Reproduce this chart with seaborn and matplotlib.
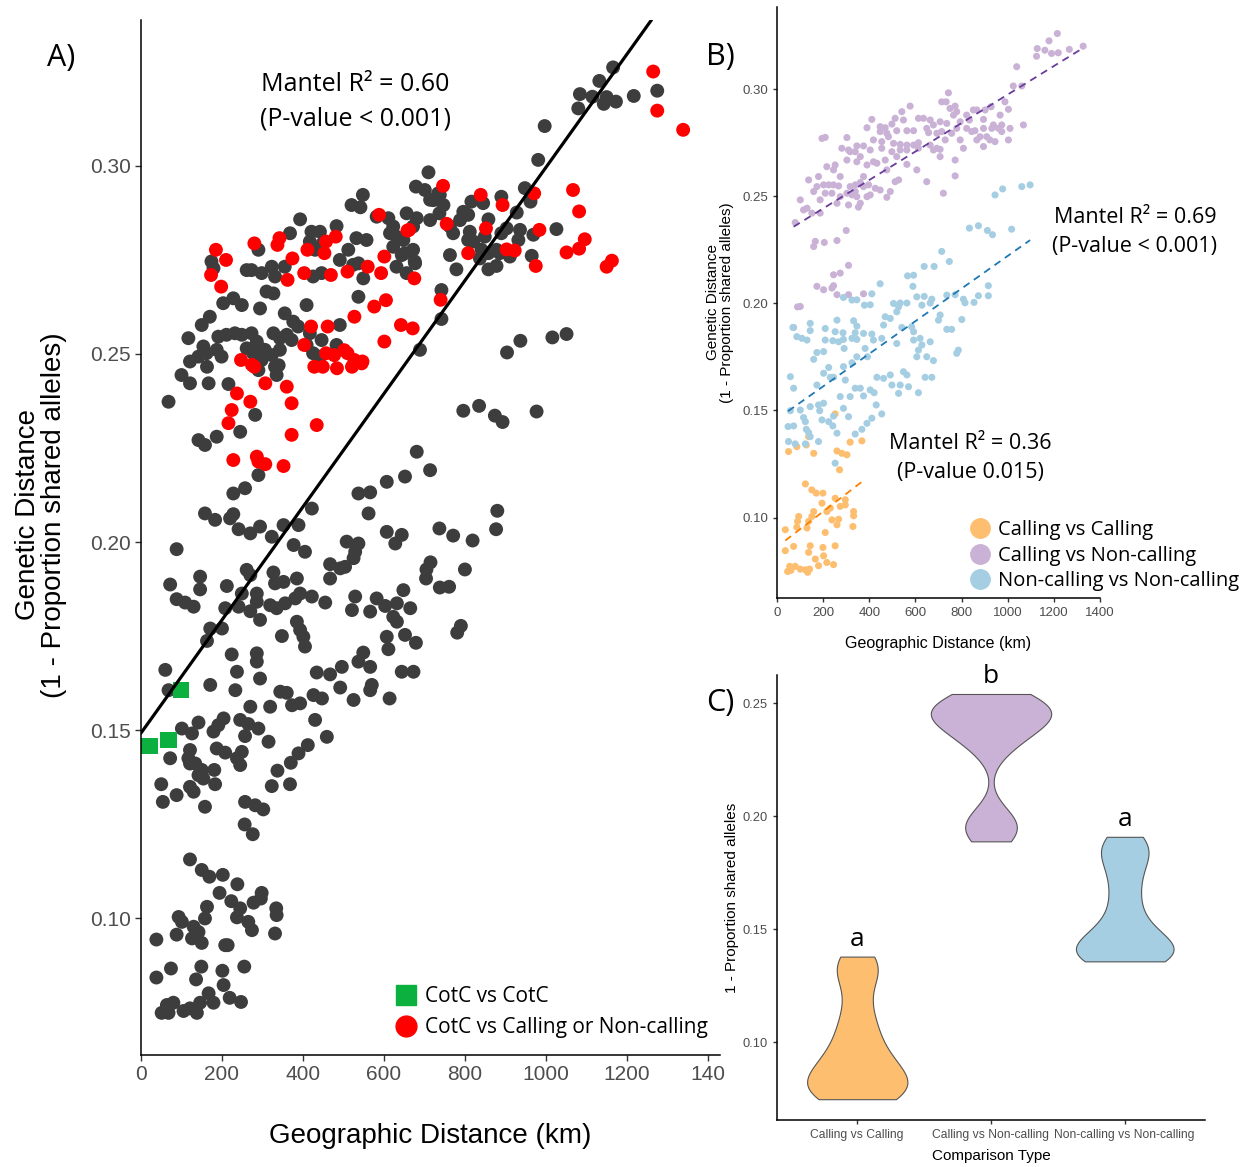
import numpy as np
import pandas as pd
import matplotlib
matplotlib.use("Agg")
import matplotlib.pyplot as plt
import seaborn as sns
from matplotlib.lines import Line2D

sns.set_theme(style="white")
plt.rcParams["font.family"] = ["Liberation Sans", "DejaVu Sans"]
plt.rcParams["text.color"] = "black"
ANNOT_FONT = ["Open Sans", "DejaVu Sans"]

# ---------------- Panel A data (km, genetic distance) ----------------
A_gray = [
    (710,.2983),(679,.2945),(701,.2936),(548,.2923),(520,.2896),(542,.2890),(393,.2858),(483,.2840),
    (656,.2874),(681,.2861),(672,.2839),(623,.2839),(615,.2821),(631,.2812),(648,.2803),(623,.2785),
    (582,.2865),(611,.2861),(421,.2825),(442,.2825),(417,.2799),(430,.2777),(449,.2794),(368,.2821),
    (532,.2808),(557,.2803),(512,.2777),(491,.2750),(524,.2737),(537,.2741),(549,.2701),(644,.2763),
    (631,.2732),(677,.2741),(656,.2715),(290,.2777),(273,.2723),(298,.2715),(323,.2732),(331,.2706),
    (355,.2732),(446,.2715),(425,.2706),(174,.2746),(179,.2728),(261,.2723),(310,.2666),(327,.2661),
    (228,.2648),(203,.2635),(249,.2630),(294,.2621),(355,.2608),(376,.2586),(388,.2573),(409,.2630),
    (491,.2577),(537,.2652),(150,.2577),(170,.2599),(117,.2542),(142,.2493),(162,.2502),(187,.2511),
    (191,.2546),(211,.2551),(232,.2555),(249,.2551),(261,.2515),(154,.2520),(199,.2493),(273,.2555),
    (286,.2533),(294,.2515),(306,.2511),(277,.2502),(298,.2484),(323,.2497),(327,.2555),(343,.2542),
    (360,.2551),(372,.2537),(343,.2511),(331,.2466),(417,.2555),(409,.2524),(425,.2502),(442,.2493),
    (483,.2524),(446,.2537),(100,.2444),(290,.2457),(714,.2910),(734,.2927),
    (1166,.3262),(1132,.3226),(1084,.3191),(1115,.3184),(1150,.3183),(1143,.3165),(1173,.3171),
    (1080,.3153),(1217,.3186),(1275,.3200),(997,.3106),(981,.3016),(738,.2923),(722,.2909),(747,.2896),
    (737,.2874),(816,.2905),(845,.2901),(808,.2870),(788,.2856),(796,.2878),(890,.2918),(948,.2941),
    (962,.2905),(928,.2876),(858,.2858),(714,.2856),(763,.2839),(771,.2821),(812,.2825),(808,.2803),
    (821,.2799),(849,.2812),(890,.2821),(903,.2834),(936,.2830),(932,.2803),(1026,.2832),(969,.2817),
    (652,.2768),(672,.2777),(676,.2746),(763,.2763),(837,.2754),(841,.2777),(858,.2768),(878,.2777),
    (886,.2768),(911,.2759),(779,.2725),(858,.2725),(878,.2734),(965,.2761),(742,.2670),(742,.2593),
    (689,.2511),(904,.2504),(937,.2535),(1016,.2544),(1051,.2553),
    (121,.2480),(163,.2466),(121,.2422),(167,.2422),(216,.2420),(335,.2444),(340,.2470),(68,.2373),
    (282,.2338),(245,.2293),(187,.2280),(142,.2271),(158,.2258),(290,.2178),(228,.2129),(257,.2143),
    (158,.2076),(183,.2059),(220,.2063),(228,.2074),(241,.2034),(270,.2023),(294,.2041),(323,.2014),
    (352,.2045),(389,.2045),(422,.2089),(88,.1981),(377,.1992),(405,.1974),
    (681,.2240),(714,.2191),(652,.2174),(607,.2160),(566,.2132),(537,.2129),(562,.2076),(607,.2027),
    (644,.2019),(628,.1996),(508,.2001),(537,.1996),(529,.1974),(525,.1957),(467,.1941),(492,.1930),
    (504,.1934),(467,.1903),(385,.1903),(327,.1919),(331,.1890),(352,.1894),(261,.1926),(270,.1912),
    (146,.1908),(72,.1887),(146,.1874),(88,.1848),(109,.1839),(130,.1828),(212,.1883),(249,.1863),
    (286,.1863),(286,.1841),(241,.1828),(208,.1824),(270,.1816),(319,.1832),(335,.1824),(356,.1837),
    (381,.1850),(393,.1863),(422,.1855),(455,.1839),(529,.1855),(582,.1850),(603,.1830),(632,.1837),
    (648,.1872),(665,.1824),(566,.1815),(521,.1819),(294,.1793),(385,.1788),(393,.1766),(401,.1748),
    (405,.1722),(348,.1750),(200,.1770),(171,.1770),(163,.1737),(623,.1801),(632,.1788),(607,.1748),
    (652,.1753),(679,.1732),(611,.1715),(549,.1706),(537,.1682),(566,.1668),(496,.1668),(467,.1648),
    (434,.1653),(294,.1637),(237,.1655),(224,.1701),(286,.1704),(286,.1682),(171,.1620),(233,.1606),
    (344,.1602),(360,.1599),(426,.1593),(447,.1584),(492,.1613),(570,.1620),(566,.1606),(525,.1580),
    (614,.1584),(644,.1655),(673,.1655),(270,.1562),(319,.1562),(373,.1566),(393,.1571),(60,.1660),
    (68,.1606),
    (796,.2349),(835,.2362),(874,.2336),(893,.2319),(977,.2347),(880,.2083),(877,.2034),(737,.2036),
    (771,.2017),(819,.2004),(715,.1946),(705,.1927),(704,.1903),(800,.1927),(738,.1879),(761,.1881),
    (790,.1777),(781,.1759),
    (101,.1504),(126,.1491),(142,.1520),(179,.1496),(191,.1513),(204,.1531),(245,.1527),(265,.1516),
    (290,.1504),(315,.1469),(257,.1484),(430,.1527),(459,.1482),(72,.1425),(121,.1447),(121,.1411),
    (134,.1411),(117,.1425),(187,.1451),(208,.1440),(237,.1425),(249,.1442),(245,.1407),(150,.1394),
    (142,.1380),(154,.1371),(181,.1394),(183,.1356),(50,.1356),(54,.1309),(88,.1327),(121,.1349),
    (130,.1336),(158,.1296),(257,.1309),(282,.1300),(302,.1289),(256,.1249),(276,.1223),(337,.1392),
    (370,.1413),(389,.1438),(412,.1460),(368,.1356),(323,.1351),
    (121,.1156),(150,.1128),(169,.1110),(202,.1115),(238,.1090),(194,.1067),(223,.1045),(245,.1026),
    (278,.1041),(298,.1067),(296,.1052),(334,.1026),(335,.1008),(237,.1002),(265,.0990),(274,.0968),
    (331,.0959),(163,.1030),(158,.0999),(93,.1003),(101,.0990),(130,.0977),(142,.0963),(88,.0956),
    (126,.0946),(150,.0934),(208,.0928),(214,.0928),(38,.0943),(38,.0842),(74,.0866),(149,.0871),
    (136,.0837),(201,.0860),(204,.0822),(255,.0871),(167,.0800),(179,.0775),(219,.0788),(247,.0777),
    (146,.0775),(80,.0775),(64,.0769),(51,.0748),(68,.0748),(105,.0753),(121,.0760),(138,.0748),
]
A_red = [
    (185,.2777),(210,.2750),(173,.2710),(198,.2679),(280,.2794),(342,.2808),(337,.2790),(374,.2754),
    (411,.2777),(403,.2715),(362,.2697),(453,.2768),(457,.2799),(481,.2812),(469,.2710),(510,.2719),
    (560,.2732),(593,.2715),(601,.2759),(588,.2870),(662,.2830),(675,.2701),(576,.2626),(605,.2643),
    (527,.2599),(420,.2573),(461,.2573),(601,.2533),(642,.2577),(671,.2568),(457,.2502),(477,.2497),
    (502,.2510),(510,.2502),(527,.2484),(547,.2480),(449,.2466),(428,.2466),(247,.2484),(280,.2466),
    (403,.2524),
    (274,.2471),(307,.2422),(360,.2413),(237,.2395),(270,.2373),(372,.2369),(224,.2351),(216,.2316),
    (434,.2311),(372,.2285),(228,.2218),(286,.2227),(290,.2214),(307,.2207),(352,.2202),(484,.2462),
    (521,.2466),(545,.2475),
    (1265,.3251),(1275,.3147),(1339,.3096),(746,.2947),(839,.2923),(893,.2896),(971,.2927),(1067,.2936),
    (1082,.2879),(755,.2846),(852,.2834),(984,.2830),(808,.2768),(903,.2778),(923,.2775),(975,.2734),
    (1051,.2770),(1082,.2780),(1096,.2805),(1150,.2732),(1163,.2748),(658,.2828),(740,.2644),
]
A_green = [(21,.1457),(68,.1473),(98,.1606)]
A_fit_intercept, A_fit_slope = 0.1492, 0.0001504
A_labels = ["CotC vs CotC", "CotC vs Calling or Non-calling"]
A_xticks = [0, 200, 400, 600, 800, 1000, 1200, 1400]
A_xticklabels = ["0", "200", "400", "600", "800", "1000", "1200", "140"]
yticks_AB = [0.10, 0.15, 0.20, 0.25, 0.30]

# ---------------- Panel B data ----------------
B_groups = ["Calling vs Calling", "Calling vs Non-calling", "Non-calling vs Non-calling"]
B_purple = [
    (1215,.3261),(1179,.3227),(1128,.3191),(1161,.3183),(1190,.3168),(1219,.3171),(1267,.3187),(1327,.3202),
    (1125,.3155),(1039,.3106),(1024,.3016),(1061,.3016),(1068,.2834),
    (743,.2984),(714,.2942),(733,.2942),(928,.2919),(988,.2942),(577,.2922),(541,.2896),(512,.2865),
    (613,.2865),(635,.2865),(772,.2922),(750,.2911),(779,.2896),(822,.2880),(851,.2904),(866,.2904),
    (902,.2904),(967,.2880),(1003,.2907),(411,.2860),(447,.2826),(469,.2821),(498,.2838),(548,.2857),
    (664,.2857),(678,.2834),(707,.2849),(736,.2841),(765,.2880),(794,.2849),(834,.2857),(895,.2860),
    (938,.2834),(974,.2834),(1010,.2818),(390,.2821),(447,.2803),(476,.2795),(519,.2807),(563,.2807),
    (592,.2807),(649,.2818),(657,.2798),(693,.2795),(714,.2803),(757,.2795),(779,.2818),(822,.2818),
    (858,.2807),(895,.2818),(931,.2818),(960,.2818),(974,.2803),(909,.2779),(880,.2779),(844,.2803),
    (195,.2771),(209,.2776),(303,.2775),(346,.2736),(375,.2736),(418,.2764),(454,.2756),(483,.2779),
    (505,.2748),(534,.2743),(563,.2740),(592,.2740),(613,.2751),(664,.2740),(693,.2725),(729,.2764),
    (794,.2764),(866,.2764),(895,.2733),(923,.2764),(945,.2756),(1003,.2764),(281,.2725),(310,.2717),
    (339,.2709),(404,.2717),(454,.2725),(498,.2709),(534,.2717),(563,.2717),(613,.2725),(678,.2717),
    (707,.2720),(808,.2725),(707,.2686),(772,.2670),(418,.2662),(469,.2670),(519,.2686),(361,.2686),
    (303,.2670),(317,.2709),(216,.2639),(252,.2647),(346,.2662),(390,.2647),(433,.2655),(476,.2624),
    (563,.2650),(606,.2624),(772,.2596),(180,.2593),(137,.2577),(245,.2624),(274,.2593),(375,.2593),
    (649,.2569),(159,.2523),(173,.2546),(202,.2554),(224,.2554),(245,.2554),(267,.2549),(317,.2546),
    (339,.2554),(361,.2565),(375,.2546),(397,.2554),(426,.2538),(447,.2530),(491,.2523),(512,.2569),
    (527,.2577),(187,.2484),(209,.2515),(238,.2515),(274,.2499),(303,.2515),(325,.2507),(339,.2523),
    (346,.2499),(390,.2499),(404,.2507),(476,.2496),(310,.2460),(361,.2468),(260,.2468),(353,.2450),
    (101,.2484),(130,.2445),(115,.2437),(151,.2422),(187,.2422),(79,.2378),(721,.2515),
    (166,.2290),(159,.2266),(205,.2285),(260,.2294),(300,.2341),(245,.2134),(274,.2142),(310,.2178),
    (173,.2080),(202,.2064),(238,.2072),(245,.2083),(260,.2041),(310,.2041),(375,.2045),(101,.1986),
    (89,.1984),(72,.1888),
]
B_blue = [
    (945,.2507),(978,.2535),(1061,.2546),(1097,.2554),(834,.2352),(873,.2363),(912,.2341),(934,.2321),
    (1017,.2347),(714,.2243),(747,.2196),(638,.2173),(681,.2173),(566,.2129),(592,.2132),(589,.2080),
    (447,.2092),(411,.2045),(346,.2017),(288,.2028),(638,.2033),(671,.2020),(664,.2002),(772,.2041),
    (808,.2020),(854,.2005),(916,.2083),(916,.2036),(534,.2002),(563,.2002),(404,.1994),
    (325,.2016),(379,.1992),(505,.2000),(519,.1961),(606,.2031),(628,.1992),(736,.2039),(815,.2003),
    (873,.2036),(69,.1888),(86,.1845),(108,.1837),(130,.1829),(144,.1907),(144,.1873),(209,.1883),
    (202,.1775),(173,.1771),(159,.1739),(209,.1829),(242,.1826),(252,.1868),(267,.1821),(286,.1863),
    (288,.1832),(291,.1790),(260,.1922),(332,.1919),(346,.1894),(339,.1863),(325,.1837),(346,.1832),
    (375,.1860),(411,.1857),(382,.1790),(392,.1751),(346,.1751),(325,.1723),(288,.1705),(224,.1701),
    (245,.1655),(231,.1655),(202,.1674),(173,.1619),(58,.1658),(72,.1604),(296,.1642),(274,.1565),
    (317,.1565),(339,.1604),(361,.1604),(375,.1568),(404,.1596),(421,.1583),(433,.1655),(462,.1650),
    (491,.1666),(498,.1619),(534,.1619),(527,.1580),(548,.1681),(563,.1666),(570,.1611),(613,.1583),
    (642,.1655),(671,.1655),(606,.1751),(649,.1751),(678,.1733),(613,.1782),(628,.1806),(664,.1821),
    (620,.1837),(592,.1829),(519,.1813),(541,.1888),(584,.1891),(592,.1868),(469,.1938),(491,.1930),
    (462,.1899),(454,.1837),(418,.1829),(527,.1984),(700,.1922),(707,.1946),(736,.1879),(757,.1879),
    (801,.1925),(779,.1767),(786,.1782),(48,.1425),(72,.1428),(58,.1499),(101,.1502),(115,.1467),
    (123,.1448),(127,.1412),(137,.1397),(144,.1378),(144,.1518),(180,.1526),(185,.1499),(202,.1534),
    (195,.1456),(224,.1448),(245,.1474),(242,.1428),(260,.1394),(252,.1254),(288,.1510),(310,.1471),
    (339,.1390),(368,.1412),(390,.1440),(411,.1464),(430,.1526),(454,.1484),(50,.1355),(123,.1344),
    (180,.1355),(79,.1344),
]
B_orange = [
    (252,.1484),(368,.1358),(317,.1352),(260,.1311),(281,.1300),(303,.1293),(271,.1223),(127,.1339),
    (86,.1331),(50,.1308),(137,.1378),(159,.1300),(123,.1157),(151,.1129),(170,.1114),(199,.1114),
    (252,.1090),(296,.1083),(296,.1059),(274,.1052),(195,.1067),(231,.1044),(216,.1028),(159,.1028),
    (151,.1005),(137,.0982),(94,.1005),(89,.0982),(130,.0951),(86,.0955),(209,.0930),(238,.0989),
    (267,.0992),(260,.0966),(332,.1028),(332,.1008),(329,.0958),(36,.0943),(36,.0845),(72,.0865),
    (144,.0868),(199,.0860),(252,.0868),(137,.0837),(166,.0806),(202,.0821),(216,.0790),(180,.0775),
    (245,.0780),(101,.0759),(123,.0756),(141,.0759),(133,.0744),(55,.0772),(60,.0753),(46,.0748),
    (79,.0772),
]
B_xticks = [0, 200, 400, 600, 800, 1000, 1200, 1400]

# ---------------- Panel C data ----------------
C_orange = [0.0748,0.0752,0.0758,0.0765,0.0775,0.079,0.080,0.0815,0.083,0.0845,0.086,0.0875,0.089,0.091,
            0.093,0.096,0.099,0.102,0.106,0.110,0.114,0.121,0.128,0.131,0.134,0.136,0.1379]
C_purple = [0.1889,0.191,0.193,0.195,0.197,0.199,0.202,0.228,0.231,0.234,0.236,0.238,0.240,0.241,
            0.242,0.243,0.244,0.245,0.246,0.247,0.248,0.249,0.250,0.251,0.252,0.253,0.2541]
C_blue = [0.1358,0.136,0.1365,0.137,0.1375,0.138,0.139,0.140,0.141,0.142,0.143,0.144,0.145,0.1465,
          0.148,0.150,0.153,0.156,0.160,0.164,0.168,0.172,0.176,0.179,0.182,0.184,0.186,0.188,
          0.1895,0.1909]
C_widths = [0.75, 0.9, 0.73]
C_bw = [0.7, 0.6, 0.7]
C_letters = ["a", "b", "a"]
C_yticks = [0.10, 0.15, 0.20, 0.25]

light = {"Calling vs Calling": "#FDBF6F", "Calling vs Non-calling": "#CAB2D6",
         "Non-calling vs Non-calling": "#A6CEE3"}
dark = {"Calling vs Calling": "#FF7F00", "Calling vs Non-calling": "#6A3D9A",
        "Non-calling vs Non-calling": "#1F78B4"}
AXIS_TXT = "#4d4d4d"

# ---------------- Figure ----------------
W, H = 1243, 1167
fig = plt.figure(figsize=(W / 100, H / 100), dpi=100)

def rect(l, t, r, b):
    return [l / W, 1 - b / H, (r - l) / W, (b - t) / H]

axA = fig.add_axes(rect(141, 20, 720, 1055))
axB = fig.add_axes(rect(777, 7, 1100, 598))
axC = fig.add_axes(rect(777, 675, 1205, 1120))

def style_axis(ax, size, tick_len=4):
    for s in ["top", "right"]:
        ax.spines[s].set_visible(False)
    for s in ["left", "bottom"]:
        ax.spines[s].set_color("black")
        ax.spines[s].set_linewidth(1.1)
    ax.tick_params(axis="both", labelsize=size, labelcolor=AXIS_TXT, color="#333333",
                   length=tick_len, width=1, direction="out", bottom=True, left=True)
    ax.grid(False)

# ----- Panel A -----
gray = pd.DataFrame(A_gray, columns=["km", "gd"])
red = pd.DataFrame(A_red, columns=["km", "gd"])
green = pd.DataFrame(A_green, columns=["km", "gd"])
sns.scatterplot(data=gray, x="km", y="gd", color="#3d3d3d", s=100, edgecolor="none", ax=axA)
sns.scatterplot(data=red, x="km", y="gd", color="#FF0000", s=100, edgecolor="none", ax=axA)
sns.scatterplot(data=green, x="km", y="gd", color="#0BB03F", marker="s", s=135, edgecolor="none", ax=axA)
axA.axline((0, A_fit_intercept), slope=A_fit_slope, color="black", lw=2.3)
axA.set_xlim(0, 1430)
axA.set_ylim(0.0636, 0.3388)
axA.set_xticks(A_xticks)
axA.set_xticklabels(A_xticklabels)
axA.set_yticks(yticks_AB)
axA.set_yticklabels([f"{v:.2f}" for v in yticks_AB])
style_axis(axA, 15)
axA.set_xlabel("Geographic Distance (km)", fontsize=20, labelpad=28, color="black")
axA.set_ylabel("Genetic Distance\n(1 - Proportion shared alleles)", fontsize=20, labelpad=14,
               color="black", linespacing=1.0)
axA.yaxis.set_label_coords(-0.128, 0.522)
axA.text(0.37, 0.921, "Mantel R² = 0.60\n(P-value < 0.001)", transform=axA.transAxes,
         ha="center", va="center", fontsize=18, family=ANNOT_FONT, linespacing=1.45, color="black")
hA = [Line2D([], [], marker="s", ls="", color="#0BB03F", markersize=14),
      Line2D([], [], marker="o", ls="", color="#FF0000", markersize=15)]
fig.legend(hA, A_labels, loc="upper left", bbox_to_anchor=(383 / W, 1 - 976 / H),
           frameon=False, handletextpad=0.3, labelspacing=0.48, borderpad=0, handlelength=1.2,
           prop={"family": ANNOT_FONT, "size": 15})

# ----- Panel B -----
frames = []
for g, pts in zip(B_groups, [B_orange, B_purple, B_blue]):
    d = pd.DataFrame(pts, columns=["km", "gd"])
    d["group"] = g
    frames.append(d)
dfB = pd.concat(frames, ignore_index=True)
sns.scatterplot(data=dfB, x="km", y="gd", hue="group", palette=light, s=26, edgecolor="none",
                legend=False, ax=axB)
for g in B_groups:
    sub = dfB[dfB["group"] == g]
    sns.regplot(data=sub, x="km", y="gd", scatter=False, ci=None, truncate=True, color=dark[g],
                line_kws=dict(ls=(0, (4, 3)), lw=1.3), ax=axB)
axB.set_xlim(0, 1400)
axB.set_ylim(0.0624, 0.3385)
axB.set_xticks(B_xticks)
axB.set_yticks(yticks_AB)
axB.set_yticklabels([f"{v:.2f}" for v in yticks_AB])
style_axis(axB, 9.5, tick_len=3)
axB.set_xlabel("Geographic Distance (km)", fontsize=11.5, labelpad=12, color="black")
axB.set_ylabel("Genetic Distance\n(1 - Proportion shared alleles)", fontsize=11, labelpad=6,
               color="black", linespacing=1.0)
fig.text(1135 / W, 1 - 232 / H, "Mantel R² = 0.69\n(P-value < 0.001)", ha="center", va="center",
         fontsize=15.5, family=ANNOT_FONT, linespacing=1.55)
fig.text(970 / W, 1 - 458 / H, "Mantel R² = 0.36\n(P-value 0.015)", ha="center", va="center",
         fontsize=15.5, family=ANNOT_FONT, linespacing=1.55)
hB = [Line2D([], [], marker="o", ls="", color=light[g], markersize=14) for g in B_groups]
fig.legend(hB, B_groups, loc="upper left", bbox_to_anchor=(958 / W, 1 - 510 / H), frameon=False,
           handletextpad=0.3, labelspacing=0.28, borderpad=0, handlelength=1.2,
           prop={"family": ANNOT_FONT, "size": 14.5})

# ----- Panel C -----
dfC = pd.DataFrame({
    "type": [B_groups[0]] * len(C_orange) + [B_groups[1]] * len(C_purple) + [B_groups[2]] * len(C_blue),
    "val": C_orange + C_purple + C_blue,
})
for g, w, bw in zip(B_groups, C_widths, C_bw):
    sub = dfC[dfC["type"] == g]
    sns.violinplot(data=sub, x="type", y="val", order=B_groups, color=light[g], cut=0, inner=None,
                   density_norm="width", width=w, linewidth=0.8, bw_adjust=bw,
                   linecolor="#555555", saturation=1, ax=axC)
axC.set_xlim(-0.6, 2.6)
axC.set_ylim(0.0656, 0.2625)
axC.set_yticks(C_yticks)
axC.set_yticklabels([f"{v:.2f}" for v in C_yticks])
style_axis(axC, 8.7, tick_len=3)
axC.tick_params(axis="y", labelsize=9.3)
axC.set_xlabel("Comparison Type", fontsize=11, labelpad=6, color="black")
axC.set_ylabel("1 - Proportion shared alleles", fontsize=11, labelpad=3, color="black")
for i, (g, letter) in enumerate(zip(B_groups, C_letters)):
    top = dfC.loc[dfC["type"] == g, "val"].max()
    axC.text(i, top + 0.002, letter, ha="center", va="bottom", fontsize=19, family=ANNOT_FONT)

# Panel letters
fig.text(47 / W, 1 - 58 / H, "A)", fontsize=22, va="center", ha="left", family=ANNOT_FONT)
fig.text(706 / W, 1 - 57 / H, "B)", fontsize=22, va="center", ha="left", family=ANNOT_FONT)
fig.text(706 / W, 1 - 703 / H, "C)", fontsize=22, va="center", ha="left", family=ANNOT_FONT)

fig.savefig("out.png", dpi=100, facecolor="white")
